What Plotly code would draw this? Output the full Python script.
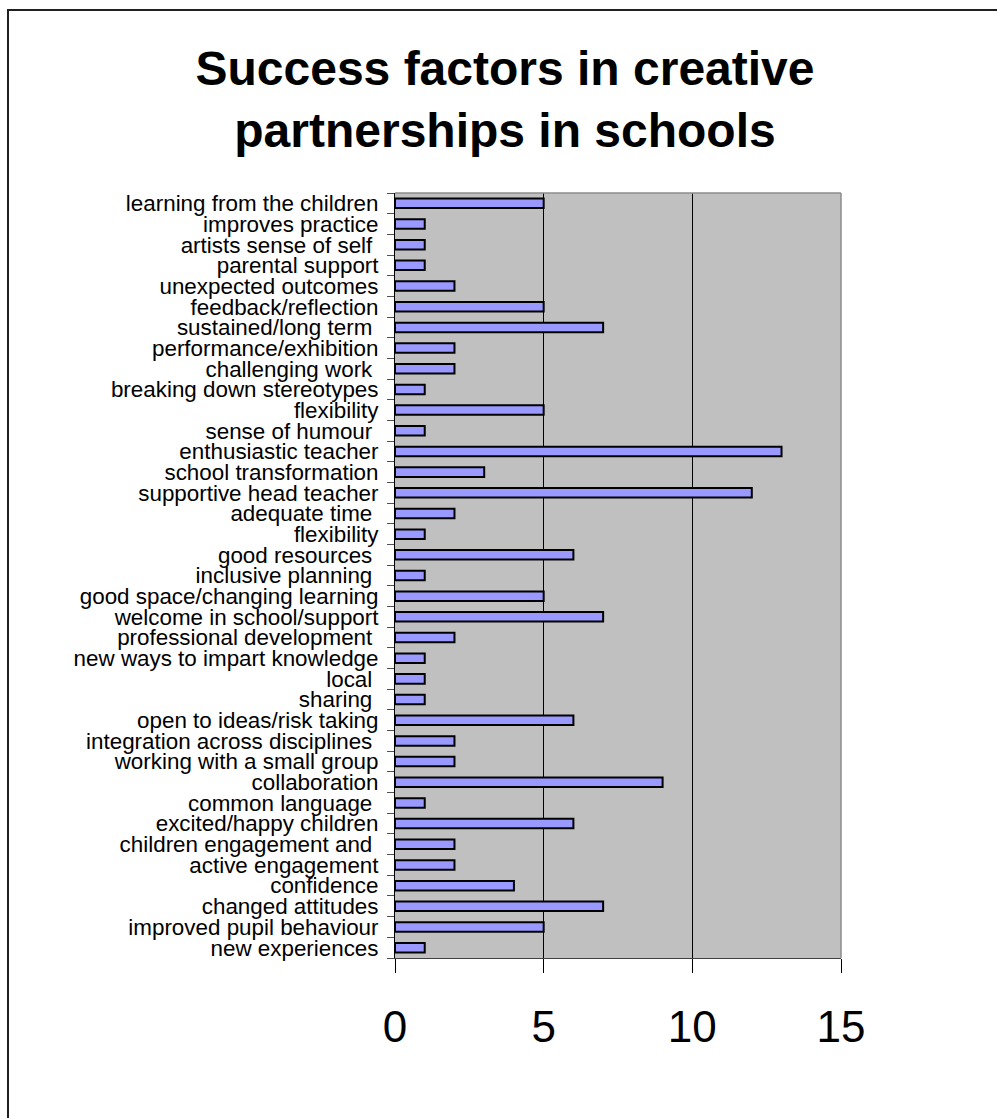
import plotly.graph_objects as go

# Success factors, listed top to bottom as they appear on the chart
factors = [
    "learning from the children",
    "improves practice",
    "artists sense of self\u00a0",
    "parental support",
    "unexpected outcomes",
    "feedback/reflection",
    "sustained/long term\u00a0",
    "performance/exhibition",
    "challenging work\u00a0",
    "breaking down stereotypes",
    "flexibility",
    "sense of humour\u00a0",
    "enthusiastic teacher",
    "school transformation",
    "supportive head teacher",
    "adequate time\u00a0",
    "flexibility",
    "good resources\u00a0",
    "inclusive planning\u00a0",
    "good space/changing learning",
    "welcome in school/support",
    "professional development\u00a0",
    "new ways to impart knowledge",
    "local\u00a0",
    "sharing\u00a0",
    "open to ideas/risk taking",
    "integration across disciplines\u00a0",
    "working with a small group",
    "collaboration",
    "common language\u00a0",
    "excited/happy children",
    "children engagement and\u00a0",
    "active engagement",
    "confidence",
    "changed attitudes",
    "improved pupil behaviour",
    "new experiences",
]

counts = [5, 1, 1, 1, 2, 5, 7, 2, 2, 1, 5, 1, 13, 3, 12, 2, 1, 6, 1, 5,
          7, 2, 1, 1, 1, 6, 2, 2, 9, 1, 6, 2, 2, 4, 7, 5, 1]

x_ticks = [0, 5, 10, 15]

W, H = 997, 1118
L, R, T, B = 395, 841, 193, 958

positions = list(range(len(factors)))
boundaries = [p - 0.5 for p in positions] + [len(factors) - 0.5]

fig = go.Figure(
    go.Bar(
        x=counts,
        y=positions,
        orientation="h",
        marker=dict(color="#9999FF", line=dict(color="#000000", width=2)),
        width=0.46,
        hoverinfo="x+text",
        text=factors,
        textposition="none",
    )
)

fig.update_layout(
    width=W,
    height=H,
    margin=dict(l=L, r=W - R, t=T, b=H - B, pad=0),
    paper_bgcolor="white",
    plot_bgcolor="#C0C0C0",
    showlegend=False,
    font=dict(family="Liberation Sans, Arial, sans-serif", color="black"),
    title=dict(
        text="<b>Success factors in creative<br>partnerships in schools</b>",
        font=dict(size=48, color="black"),
        xref="container",
        yref="container",
        x=505 / W,
        xanchor="center",
        y=1 - 85 / H,
        yanchor="top",
    ),
    xaxis=dict(
        range=[0, 15],
        tickvals=x_ticks,
        ticktext=[str(v) for v in x_ticks],
        ticks="outside",
        ticklen=14,
        tickwidth=1,
        tickcolor="black",
        tickfont=dict(size=44),
        ticklabelstandoff=16,
        showgrid=True,
        gridcolor="black",
        gridwidth=1,
        showline=True,
        linecolor="#404040",
        linewidth=1,
        zeroline=False,
        fixedrange=True,
    ),
    yaxis=dict(
        range=[len(factors) - 0.5, -0.5],
        tickvals=positions,
        ticktext=factors,
        ticks="",
        tickfont=dict(size=22.4),
        ticklabelstandoff=11,
        minor=dict(
            tickvals=boundaries,
            ticks="outside",
            ticklen=7,
            tickwidth=1,
            tickcolor="#505050",
            showgrid=False,
        ),
        showgrid=False,
        showline=True,
        linecolor="black",
        linewidth=1,
        zeroline=False,
        fixedrange=True,
    ),
    shapes=[
        # grey frame on the top and right edges of the plotting area
        dict(type="line", xref="x domain", yref="y domain", x0=0, x1=1, y0=1, y1=1,
             line=dict(color="#8C8C8C", width=1.5), layer="above"),
        dict(type="line", xref="x domain", yref="y domain", x0=1, x1=1, y0=0, y1=1,
             line=dict(color="#8C8C8C", width=1.5), layer="above"),
        # outer frame around the whole chart
        dict(type="rect", xref="paper", yref="paper",
             x0=(8 - L) / (R - L), x1=(W + 20 - L) / (R - L),
             y0=(B - (H + 20)) / (B - T), y1=(B - 10) / (B - T),
             line=dict(color="#202020", width=2), fillcolor="rgba(0,0,0,0)",
             layer="above"),
    ],
)

fig.write_html("out.html", config={"displayModeBar": False})
